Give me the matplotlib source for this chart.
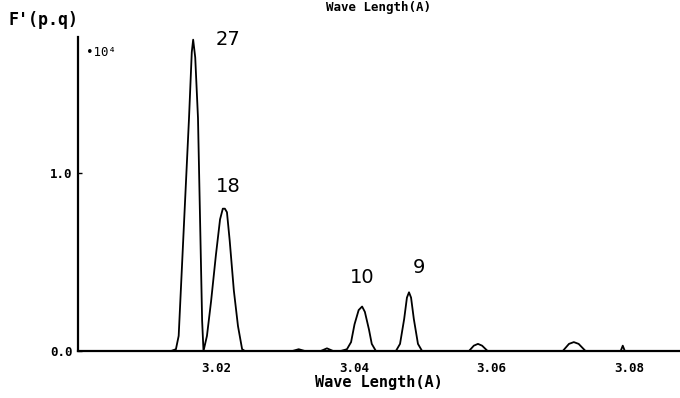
import matplotlib
matplotlib.use("Agg")
import matplotlib.pyplot as plt

# Traced spectrum F'(p.q) (x 10^4) against wave length (A)
wave = [3.0000, 3.0100, 3.0135, 3.0142, 3.0146, 3.0154, 3.0161, 3.0165, 3.0167,
        3.0170, 3.0174, 3.0177, 3.0180, 3.0182,
        3.0187, 3.0193, 3.0200, 3.0206, 3.0210, 3.0213, 3.0216, 3.0220, 3.0226,
        3.0232, 3.0238, 3.0242,
        3.0311, 3.0320, 3.0329, 3.0352, 3.0361, 3.0370,
        3.0381, 3.0390, 3.0396, 3.0401, 3.0407, 3.0412, 3.0416, 3.0422, 3.0426, 3.0432,
        3.0461, 3.0467, 3.0473, 3.0477, 3.0480, 3.0483, 3.0487, 3.0493, 3.0499,
        3.0567, 3.0574, 3.0580, 3.0586, 3.0594,
        3.0703, 3.0712, 3.0719, 3.0726, 3.0736,
        3.0787, 3.0790, 3.0793, 3.0874]
intensity = [0.0, 0.0, 0.0, 0.01, 0.085, 0.74, 1.31, 1.68, 1.75,
             1.65, 1.31, 0.74, 0.17, 0.0,
             0.085, 0.28, 0.54, 0.74, 0.80, 0.80, 0.78, 0.62, 0.34,
             0.14, 0.01, 0.0,
             0.0, 0.01, 0.0, 0.0, 0.015, 0.0,
             0.0, 0.01, 0.05, 0.15, 0.23, 0.25, 0.22, 0.12, 0.04, 0.0,
             0.0, 0.04, 0.18, 0.30, 0.33, 0.30, 0.18, 0.04, 0.0,
             0.0, 0.03, 0.04, 0.03, 0.0,
             0.0, 0.04, 0.05, 0.04, 0.0,
             0.0, 0.03, 0.0, 0.0]

# Peak labels with their peak position and offset (pixels) of the label
peak_labels = ["27", "18", "10", "9"]
peak_wave = [3.0167, 3.0213, 3.0412, 3.0480]
peak_height = [1.75, 0.80, 0.25, 0.33]
label_offsets = [(35, 0), (3, 22), (0, 29), (10, 25)]

x_ticks = [3.02, 3.04, 3.06, 3.08]
x_tick_labels = ["3.02", "3.04", "3.06", "3.08"]
y_ticks = [0.0, 1.0]
y_tick_labels = ["0.0", "1.0"]

# plotter-like lettering
mono = "DejaVu Sans Mono"

fig = plt.figure(figsize=(6.8, 3.98), dpi=100)
ax = fig.add_axes([78 / 680, 47 / 398, 602 / 680, 314 / 398])

ax.plot(wave, intensity, color="black", linewidth=1.3)

ax.set_xlim(3.0, 3.0873)
ax.set_ylim(0, 1.765)

ax.spines["top"].set_visible(False)
ax.spines["right"].set_visible(False)
ax.spines["left"].set_linewidth(1.6)
ax.spines["bottom"].set_linewidth(1.6)

ax.set_xticks(x_ticks)
ax.set_xticklabels(x_tick_labels, fontsize=9, fontweight="bold", family=mono)
ax.set_yticks(y_ticks)
ax.set_yticklabels(y_tick_labels, fontsize=9, fontweight="bold", family=mono)
ax.tick_params(axis="x", length=0, pad=8)
ax.tick_params(axis="y", direction="in", length=3, width=1, pad=4)

ax.set_xlabel("Wave Length(A)", fontsize=11, fontweight="bold", family=mono,
              labelpad=0)

for lab, px, py, (dx, dy) in zip(peak_labels, peak_wave, peak_height, label_offsets):
    ax.annotate(lab, xy=(px, py), xytext=(dx * 0.72, dy * 0.72),
                textcoords="offset points", ha="center", va="center",
                fontsize=14)

# axis name and scale factor at the top left
fig.text(8 / 680, 1 - 20 / 398, "F'(p.q)", fontsize=12, fontweight="bold",
         family=mono, ha="left", va="center")
fig.text(86 / 680, 1 - 52 / 398, "•10⁴", fontsize=9, family=mono,
         ha="left", va="center")

# title, cut off at the top edge in the scan
fig.text(378 / 680, 0.998, "Wave Length(A)", fontsize=9, fontweight="bold",
         family=mono, ha="center", va="top")

fig.savefig("out.png", dpi=100)
